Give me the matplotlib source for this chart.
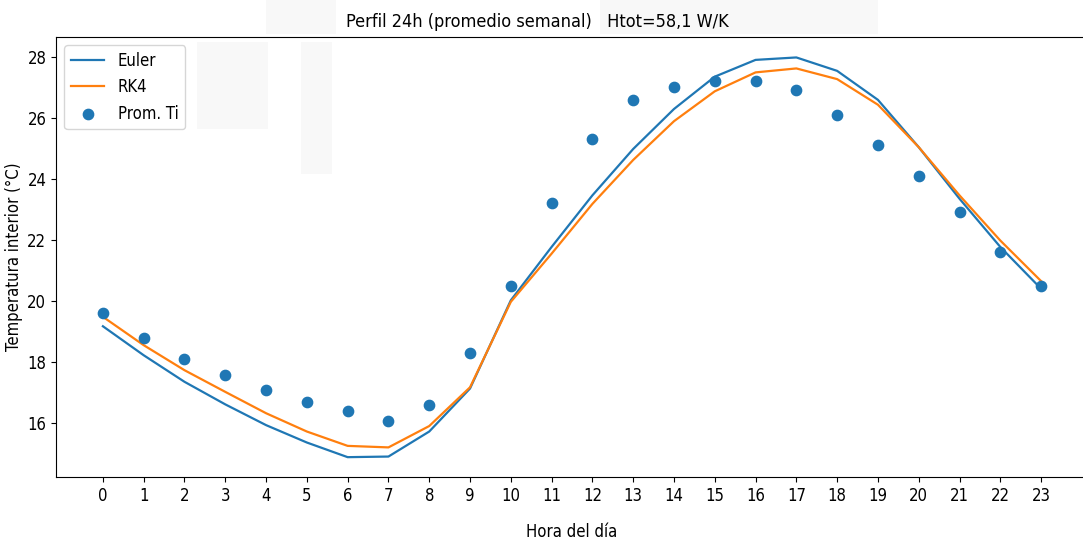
import matplotlib
matplotlib.use("Agg")
import matplotlib.pyplot as plt
from matplotlib.patches import Rectangle

hours = list(range(24))
euler = [19.17, 18.22, 17.35, 16.61, 15.93, 15.36, 14.88, 14.90, 15.72, 17.13, 20.02, 21.77,
         23.46, 24.98, 26.29, 27.35, 27.90, 27.98, 27.54, 26.59, 25.04, 23.35, 21.77, 20.40]
rk4 = [19.48, 18.55, 17.73, 17.02, 16.32, 15.72, 15.25, 15.20, 15.90, 17.17, 19.97, 21.55,
       23.18, 24.62, 25.89, 26.87, 27.49, 27.62, 27.27, 26.43, 25.04, 23.46, 21.98, 20.65]
prom_ti = [19.60, 18.79, 18.09, 17.58, 17.08, 16.69, 16.38, 16.08, 16.59, 18.30, 20.49, 23.20,
           25.30, 26.60, 27.00, 27.21, 27.21, 26.91, 26.09, 25.10, 24.10, 22.90, 21.59, 20.49]

W, H = 1083, 541
fig = plt.figure(figsize=(W / 100, H / 100), dpi=100)
plt.rcParams['font.family'] = ['DejaVu Sans']
plt.rcParams['font.stretch'] = 'condensed'

rects = [(266, 0, 70, 34), (600, 0, 278, 34), (197, 42, 71, 87), (301, 42, 31, 132)]
for (rx, ry, rw, rh) in rects:
    fig.patches.append(Rectangle((rx / W, 1 - (ry + rh) / H), rw / W, rh / H,
                                 transform=fig.transFigure, facecolor='#f8f8f8',
                                 edgecolor='none', zorder=3))

left, right, top, bottom = 56, 1088, 37, 477
ax = fig.add_axes([left / W, 1 - bottom / H, (right - left) / W, (bottom - top) / H])
ax.patch.set_alpha(0)

ax.plot(hours, euler, color='#1f77b4', lw=1.6, label='Euler')
ax.plot(hours, rk4, color='#ff7f0e', lw=1.6, label='RK4')
ax.scatter(hours, prom_ti, color='#1f77b4', s=55, label='Prom. Ti', zorder=3)

ax.set_xticks(hours)
ax.set_xlim(-1.15, 24.15)
ax.set_ylim(14.23, 28.65)
ax.set_yticks([16, 18, 20, 22, 24, 26, 28])
ax.tick_params(labelsize=12)
ax.set_xlabel('Hora del día', fontsize=12, labelpad=13)
ax.set_ylabel('Temperatura interior (°C)', fontsize=12, labelpad=3)
ax.legend(loc='upper left', fontsize=12)

fig.text(537 / W, 1 - 22 / H, 'Perfil 24h (promedio semanal)   Htot=58,1 W/K',
         ha='center', va='center', fontsize=13)

fig.savefig('out.png', dpi=100)
